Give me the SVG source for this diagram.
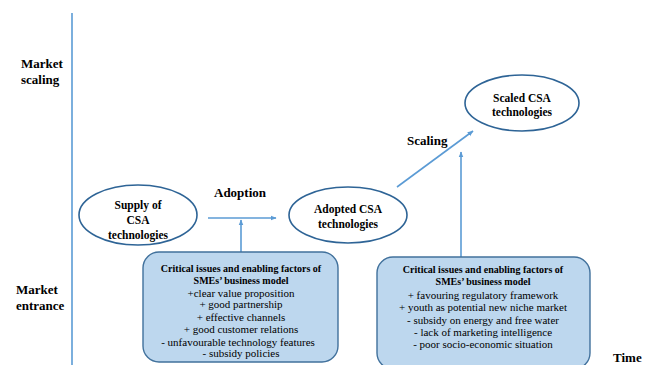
<svg xmlns="http://www.w3.org/2000/svg" width="667" height="365" viewBox="0 0 667 365">
<defs>
<marker id="ah" viewBox="0 0 10 10" refX="9" refY="5" markerWidth="6" markerHeight="6" orient="auto" markerUnits="userSpaceOnUse"><path d="M0,1 L10,5 L0,9 z" fill="#5B9BD5"/></marker>
</defs>
<style>
text{fill:#000;font-family:"Liberation Serif","Times New Roman",serif}
.lbl{font-size:13px;font-weight:bold}
.nt{font-size:11.5px;font-weight:bold;text-anchor:middle}
.bt{font-size:11px;text-anchor:middle}
.bh{font-size:10px;font-weight:bold;text-anchor:middle}
.ell{fill:#fff;stroke:#2E6496;stroke-width:1.6}
.box{fill:#BDD7EE;stroke:#41719C;stroke-width:1.4}
.con{stroke:#5B9BD5;stroke-width:1.6;fill:none}
</style>
<rect width="667" height="365" fill="#fff"/>
<g id="axis">
<line x1="72" y1="13" x2="72" y2="365" stroke="#5B9BD5" stroke-width="1.6"/>
<text class="lbl" x="21" y="68">Market</text>
<text class="lbl" x="21" y="84">scaling</text>
<text class="lbl" x="16" y="294">Market</text>
<text class="lbl" x="16" y="310">entrance</text>
<text class="lbl" x="613" y="362">Time</text>
</g>
<g id="connectors">
<line class="con" x1="208" y1="218" x2="276" y2="218" marker-end="url(#ah)"/>
<line class="con" x1="241" y1="252" x2="241" y2="220" marker-end="url(#ah)"/>
<line class="con" x1="397" y1="187" x2="473" y2="131" marker-end="url(#ah)"/>
<line class="con" x1="461" y1="257" x2="461" y2="152" marker-end="url(#ah)"/>
<text class="lbl" x="214" y="197">Adoption</text>
<text class="lbl" x="407" y="145">Scaling</text>
</g>
<g id="supply">
<ellipse class="ell" cx="138" cy="215" rx="59" ry="30"/>
<text class="nt" x="138" y="209">Supply of</text>
<text class="nt" x="138" y="224">CSA</text>
<text class="nt" x="138" y="239">technologies</text>
</g>
<g id="adopted">
<ellipse class="ell" cx="348" cy="215" rx="59" ry="28"/>
<text class="nt" x="348" y="213">Adopted CSA</text>
<text class="nt" x="348" y="228">technologies</text>
</g>
<g id="scaled">
<ellipse class="ell" cx="522" cy="103" rx="57" ry="28"/>
<text class="nt" x="522" y="102">Scaled CSA</text>
<text class="nt" x="522" y="116">technologies</text>
</g>
<g id="box1">
<rect class="box" x="143" y="252" width="195" height="110" rx="16"/>
<text class="bh" x="241" y="272">Critical issues and enabling factors of</text>
<text class="bh" x="241" y="284">SMEs’ business model</text>
<text class="bt" x="241" y="297">+clear value proposition</text>
<text class="bt" x="241" y="308">+ good partnership</text>
<text class="bt" x="241" y="321">+ effective channels</text>
<text class="bt" x="241" y="333">+ good customer relations</text>
<text class="bt" x="238" y="346">-   unfavourable technology features</text>
<text class="bt" x="241" y="357">-   subsidy policies</text>
</g>
<g id="box2">
<rect class="box" x="377" y="257" width="213" height="112" rx="16"/>
<text class="bh" x="483" y="273">Critical issues and enabling factors of</text>
<text class="bh" x="483" y="285">SMEs’ business model</text>
<text class="bt" x="483" y="299">+ favouring regulatory framework</text>
<text class="bt" x="483" y="311">+ youth as potential new niche market</text>
<text class="bt" x="483" y="324">- subsidy on energy and free water</text>
<text class="bt" x="483" y="336">- lack of marketing intelligence</text>
<text class="bt" x="483" y="348">- poor socio-economic situation</text>
</g>
</svg>
